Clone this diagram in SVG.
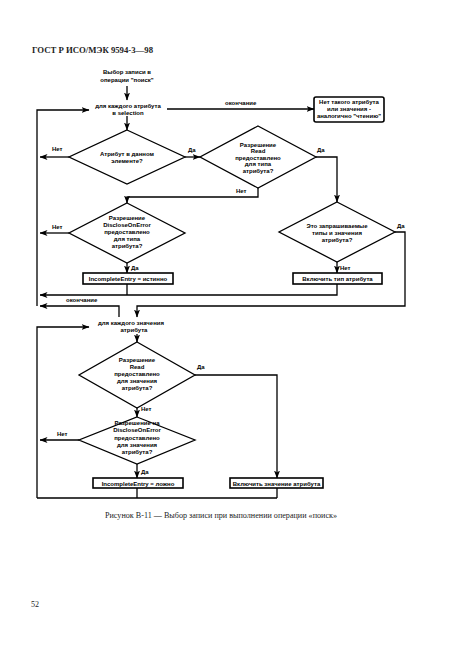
<svg xmlns="http://www.w3.org/2000/svg" width="459" height="661" viewBox="0 0 459 661">
<defs>
<marker id="ah" markerWidth="8" markerHeight="6" refX="7.5" refY="3" orient="auto" markerUnits="userSpaceOnUse">
<path d="M0,0 L8,3 L0,6 L2,3 z" fill="#000"/>
</marker>
<style>
.ln{fill:none;stroke:#000;stroke-width:1.3}
.ar{fill:none;stroke:#000;stroke-width:1.3;marker-end:url(#ah)}
.sh{fill:#fff;stroke:#000;stroke-width:1.3}
.bx{fill:#fff;stroke:#000;stroke-width:1.6}
.t{font-family:"Liberation Sans",Arial,sans-serif;font-weight:bold;font-size:6px;fill:#000;text-anchor:middle}
.l{font-family:"Liberation Sans",Arial,sans-serif;font-weight:bold;font-size:6px;fill:#000}
.s{font-family:"Liberation Serif","Times New Roman",serif;fill:#222}
</style>
</defs>
<rect width="459" height="661" fill="#fff"/>
<text class="s" x="32" y="53" font-size="8.5" font-weight="bold" textLength="121" lengthAdjust="spacingAndGlyphs">ГОСТ Р ИСО/МЭК 9594-3—98</text>

<g id="connectors">
<path class="ar" d="M127,86 L127,100"/>
<path class="ar" d="M37,306 L37,110 L89,110"/>
<path class="ar" d="M167,109 L314,109"/>
<path class="ar" d="M127,116 L127,130"/>
<path class="ar" d="M185,157 L200,157"/>
<path class="ar" d="M69,157 L40,157"/>
<path class="ar" d="M316,157 L337,157 L337,202"/>
<path class="ar" d="M258,188 L258,197 L127,197 L127,203"/>
<path class="ar" d="M69,233 L40,233"/>
<path class="ar" d="M127,263 L127,273"/>
<path class="ln" d="M127,284 L127,295"/>
<path class="ar" d="M337,284 L337,295 L40,295"/>
<path class="ar" d="M337,262 L337,273"/>
<path class="ar" d="M395,232 L405,232 L405,306 L137,306 L137,317"/>
<path class="ar" d="M119,317 L119,306 L40,306"/>
<path class="ar" d="M37,498 L37,327 L89,327"/>
<path class="ar" d="M137,334 L137,342"/>
<path class="ar" d="M195,375 L277,375 L277,478"/>
<path class="ar" d="M137,408 L137,417"/>
<path class="ar" d="M79,440 L40,440"/>
<path class="ar" d="M137,464 L137,478"/>
<path class="ln" d="M137,488 L137,498 M277,488 L277,498 M37,498 L277,498"/>
<text class="l" x="225" y="105">окончание</text>
<text class="l" x="188" y="152">Да</text>
<text class="l" x="52" y="151">Нет</text>
<text class="l" x="317" y="152">Да</text>
<text class="l" x="236" y="193">Нет</text>
<text class="l" x="52" y="229">Нет</text>
<text class="l" x="131" y="270">Да</text>
<text class="l" x="397" y="228">Да</text>
<text class="l" x="340" y="270">Нет</text>
<text class="l" x="66" y="302">окончание</text>
<text class="l" x="197" y="369">Да</text>
<text class="l" x="141" y="411">Нет</text>
<text class="l" x="57" y="436">Нет</text>
<text class="l" x="141" y="474">Да</text>
</g>

<g id="start">
<text class="t" x="127" y="74">Выбор записи в</text>
<text class="t" x="127" y="82">операции "поиск"</text>
</g>
<g id="loop-attr">
<text class="t" x="128" y="108">для каждого атрибута</text>
<text class="t" x="128" y="115">в selection</text>
</g>
<g id="no-such">
<rect class="bx" x="314" y="97" width="70" height="25" rx="2"/>
<text class="t" x="349" y="104">Нет такого атрибута</text>
<text class="t" x="349" y="111">или значения -</text>
<text class="t" x="349" y="118">аналогично "чтению"</text>
</g>
<g id="d1">
<polygon class="sh" points="127,130 185,157 127,184 69,157"/>
<text class="t" x="127" y="156">Атрибут в данном</text>
<text class="t" x="127" y="163">элементе?</text>
</g>
<g id="d2">
<polygon class="sh" points="258,126 316,157 258,188 200,157"/>
<text class="t" x="258" y="147">Разрешение</text>
<text class="t" x="258" y="153">Read</text>
<text class="t" x="258" y="159.5">предоставлено</text>
<text class="t" x="258" y="166">для типа</text>
<text class="t" x="258" y="172.5">атрибута?</text>
</g>
<g id="d3">
<polygon class="sh" points="127,203 185,233 127,263 69,233"/>
<text class="t" x="127" y="220">Разрешение</text>
<text class="t" x="127" y="227">DiscloseOnError</text>
<text class="t" x="127" y="234">предоставлено</text>
<text class="t" x="127" y="241">для типа</text>
<text class="t" x="127" y="248">атрибута?</text>
</g>
<g id="b1">
<rect class="bx" x="83" y="273" width="90" height="11"/>
<text class="t" x="128" y="281">IncompleteEntry = истинно</text>
</g>
<g id="d4">
<polygon class="sh" points="337,202 395,232 337,262 279,232"/>
<text class="t" x="337" y="228">Это запрашиваемые</text>
<text class="t" x="337" y="235">типы и значения</text>
<text class="t" x="337" y="242">атрибута?</text>
</g>
<g id="b2">
<rect class="bx" x="293" y="273" width="89" height="11"/>
<text class="t" x="337.5" y="281">Включить тип атрибута</text>
</g>
<g id="loop-val">
<text class="t" x="131" y="325">для каждого значения</text>
<text class="t" x="134" y="332">атрибута</text>
</g>
<g id="d5">
<polygon class="sh" points="137,342 195,375 137,408 79,375"/>
<text class="t" x="137" y="362">Разрешение</text>
<text class="t" x="137" y="369">Read</text>
<text class="t" x="137" y="376">предоставлено</text>
<text class="t" x="137" y="383">для значения</text>
<text class="t" x="137" y="390">атрибута?</text>
</g>
<g id="d6">
<polygon class="sh" points="137,417 195,440 137,464 79,440"/>
<text class="t" x="137" y="425">Разрешение на</text>
<text class="t" x="137" y="432">DiscloseOnError</text>
<text class="t" x="137" y="440">предоставлено</text>
<text class="t" x="137" y="447">для значения</text>
<text class="t" x="137" y="454">атрибута?</text>
</g>
<g id="b3">
<rect class="bx" x="93" y="478" width="90" height="10"/>
<text class="t" x="138" y="485.5">IncompleteEntry = ложно</text>
</g>
<g id="b4">
<rect class="bx" x="230" y="478" width="93" height="10"/>
<text class="t" x="276.5" y="485.5">Включить значение атрибута</text>
</g>

<text class="s" x="221" y="518" font-size="7.5" text-anchor="middle" textLength="232" lengthAdjust="spacingAndGlyphs">Рисунок В-11 — Выбор записи при выполнении операции «поиск»</text>
<text class="s" x="31" y="607" font-size="8">52</text>
</svg>
